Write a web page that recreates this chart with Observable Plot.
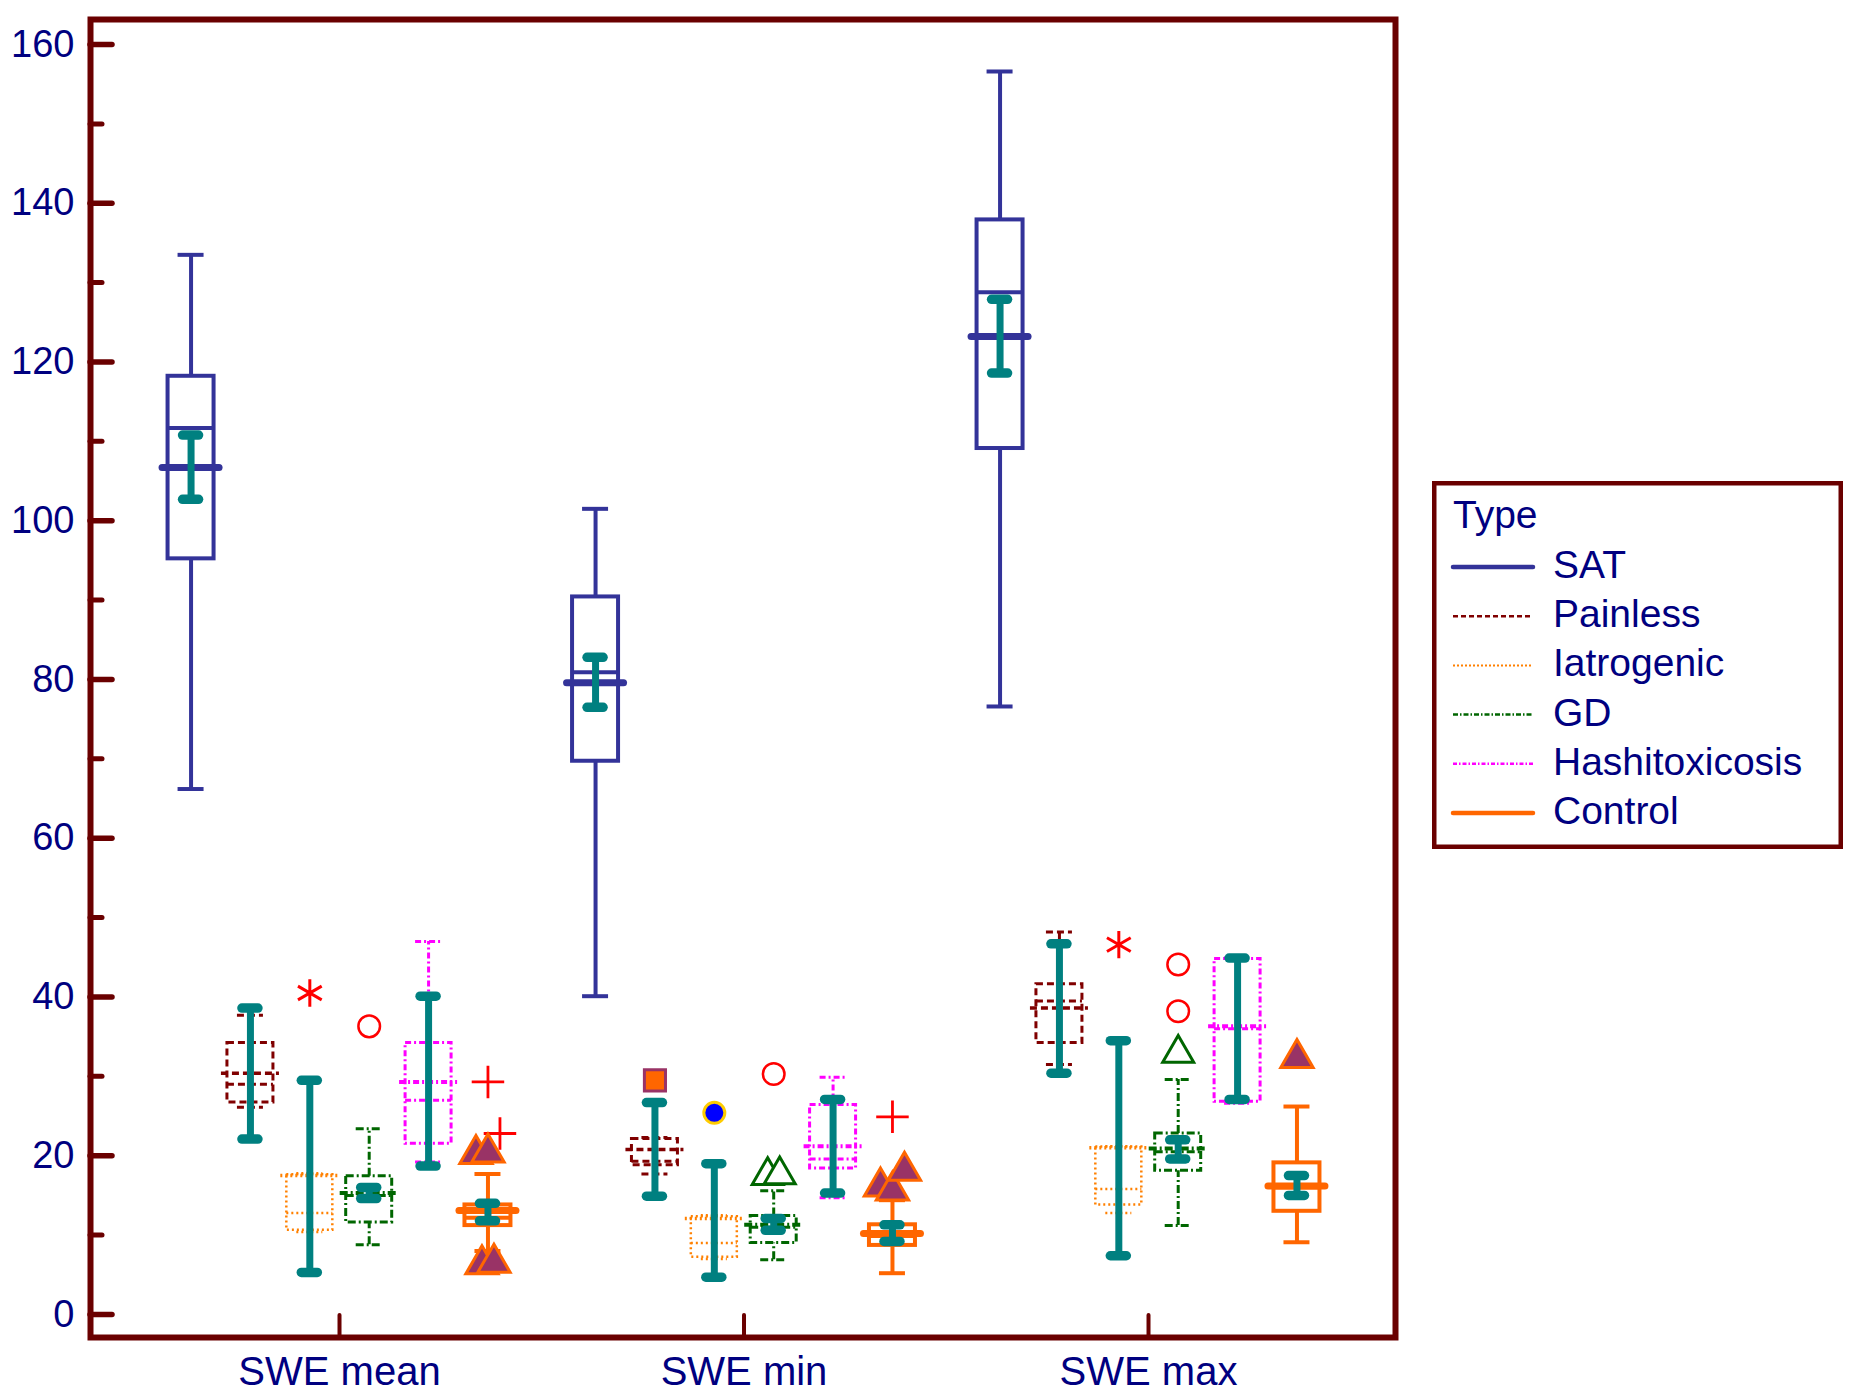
<!DOCTYPE html>
<html><head><meta charset="utf-8">
<script src="https://cdn.jsdelivr.net/npm/d3@7"></script>
<script src="https://cdn.jsdelivr.net/npm/@observablehq/plot@0.6"></script>
<style>
html,body{margin:0;padding:0;background:#fff;}
#wrap{position:relative;width:1860px;height:1396px;font-family:"Liberation Sans",Arial,sans-serif;}
#legend{position:absolute;left:1432px;top:481px;}
</style></head><body><div id="wrap"></div>
<script>
// ---------- data ----------
const groups = ["SWE mean", "SWE min", "SWE max"];
const types = ["SAT", "Painless", "Iatrogenic", "GD", "Hashitoxicosis", "Control"];
const yTicks = [0, 20, 40, 60, 80, 100, 120, 140, 160];
const yMinorTicks = [10, 30, 50, 70, 90, 110, 130, 150];

// rows: SWE mean, SWE min, SWE max ; columns follow `types`
const whiskerLo = [
  [66.2, 26.1, 10.4, 8.8, 19.2, 8.0],
  [40.1, 17.7, 7.0, 6.9, 14.7, 5.2],
  [76.6, 31.5, 12.8, 11.2, 26.6, 9.1]
];
const q1 = [
  [95.2, 26.7, 10.6, 11.6, 21.5, 11.2],
  [69.7, 18.8, 7.2, 9.0, 18.4, 8.7],
  [109.1, 34.2, 13.8, 18.1, 26.8, 13.0]
];
const median = [
  [111.7, 29.0, 12.8, 15.0, 27.0, 12.2],
  [80.9, 19.3, 9.0, 11.0, 19.6, 9.9],
  [128.8, 39.5, 15.8, 20.5, 36.0, 16.0]
];
const q3 = [
  [118.2, 34.2, 17.6, 17.4, 34.2, 13.8],
  [90.4, 22.1, 12.3, 12.4, 26.4, 11.3],
  [137.9, 41.6, 21.1, 22.8, 44.8, 19.1]
];
const whiskerHi = [
  [133.5, 37.7, 17.8, 23.4, 47.0, 17.7],
  [101.5, 22.3, 12.5, 15.6, 29.9, 14.4],
  [156.6, 48.2, 21.2, 29.6, 44.9, 26.2]
];
const means = [
  [106.7, 30.4, 17.5, 15.3, 29.3, 13.1],
  [79.6, 20.8, 12.1, 11.3, 21.2, 10.2],
  [123.2, 38.6, 21.0, 20.9, 36.3, 16.2]
];
const ciLo = [
  [102.7, 22.1, 5.3, 14.6, 18.7, 11.8],
  [76.5, 14.9, 4.7, 10.6, 15.3, 9.2],
  [118.6, 30.4, 7.4, 19.6, 27.1, 15.0]
];
const ciHi = [
  [110.8, 38.6, 29.5, 16.0, 40.1, 14.0],
  [82.8, 26.7, 19.0, 12.1, 27.1, 11.3],
  [127.9, 46.7, 34.5, 22.0, 44.9, 17.5]
];
// outside values: [group, type, value, kind]
const outliers = [
  ["SWE mean", "Iatrogenic", 40.5, "farAsterisk"],
  ["SWE mean", "GD", 36.3, "farCircle"],
  ["SWE mean", "Control", 20.2, "triPurple"],
  ["SWE mean", "Control", 20.4, "triPurple"],
  ["SWE mean", "Control", 22.8, "farPlus"],
  ["SWE mean", "Control", 29.3, "farPlus"],
  ["SWE mean", "Control", 6.3, "triPurple"],
  ["SWE mean", "Control", 6.5, "triPurple"],
  ["SWE min", "Painless", 29.5, "squareOrange"],
  ["SWE min", "Iatrogenic", 25.4, "circleBlue"],
  ["SWE min", "GD", 30.3, "farCircle"],
  ["SWE min", "GD", 17.5, "triGreen"],
  ["SWE min", "GD", 17.6, "triGreen"],
  ["SWE min", "Control", 24.9, "farPlus"],
  ["SWE min", "Control", 16.1, "triPurple"],
  ["SWE min", "Control", 15.6, "triPurple"],
  ["SWE min", "Control", 18.1, "triPurple"],
  ["SWE max", "Iatrogenic", 46.6, "farAsterisk"],
  ["SWE max", "GD", 44.1, "farCircle"],
  ["SWE max", "GD", 38.2, "farCircle"],
  ["SWE max", "GD", 32.9, "triGreen"],
  ["SWE max", "Control", 32.3, "triPurple"]
];

// ---------- styles ----------
const navy = "#000080", frameColor = "#6a0000", teal = "#008080";
const typeStyle = {
  "SAT":            {color: "#333399", dash: null,      sw: 4,   meanSw: 7,   legendSw: 4.5, legendDash: null},
  "Painless":       {color: "#800000", dash: "7,4",     sw: 3,   meanSw: 3.5, legendSw: 2.5, legendDash: "5,3"},
  "Iatrogenic":     {color: "#ff8000", dash: "2,3",     sw: 2.5, meanSw: 3.5, legendSw: 2,   legendDash: "2,2"},
  "GD":             {color: "#006600", dash: "8,3,2,3", sw: 3,   meanSw: 4,   legendSw: 2.5, legendDash: "5,2,1.5,2"},
  "Hashitoxicosis": {color: "#ff00ff", dash: "6,3,2,3", sw: 3,   meanSw: 4,   legendSw: 2.5, legendDash: "4,2,1.5,2"},
  "Control":        {color: "#ff6600", dash: null,      sw: 4,   meanSw: 7,   legendSw: 4.5, legendDash: null}
};
const kindStyle = {
  farAsterisk:  {symbol: "asterisk", fill: "none",    stroke: "#ff0000", r: 13,   sw: 3},
  farCircle:    {symbol: "circle",   fill: "none",    stroke: "#ff0000", r: 10.8, sw: 2.5},
  farPlus:      {symbol: "plus",     fill: "none",    stroke: "#ff0000", r: 10.5, sw: 2.8},
  triPurple:    {symbol: "triangle", fill: "#993366", stroke: "#ff6600", r: 12,   sw: 3},
  triGreen:     {symbol: "triangle", fill: "#ffffff", stroke: "#006600", r: 11.5, sw: 3},
  squareOrange: {symbol: "square",   fill: "#ff6600", stroke: "#993366", r: 11.9, sw: 3},
  circleBlue:   {symbol: "circle",   fill: "#0000ff", stroke: "#ffcc00", r: 10.5, sw: 3}
};

// ---------- layout ----------
const W = 1860, H = 1396;
const mL = 90, mR = 465, mT = 19, mB = 59;
const xDom = [-0.6156, 2.6106];
const yDom = [-2.9, 163.15];
const kx = (xDom[1] - xDom[0]) / (W - mL - mR);   // x units per pixel
const ky = (yDom[1] - yDom[0]) / (H - mT - mB);   // y units per pixel
const slot = 0.1468;                               // spacing between types in a group
const boxH = 23 * kx, capH = 13 * kx, meanHs = 28.5 * kx, meanHd = 29 * kx, tealH = 8 * kx;

const rows = [];
groups.forEach((g, gi) => types.forEach((t, ti) => rows.push({
  g, gi, t, ti,
  lo: whiskerLo[gi][ti], q1: q1[gi][ti], med: median[gi][ti], q3: q3[gi][ti],
  hi: whiskerHi[gi][ti], mean: means[gi][ti], ciLo: ciLo[gi][ti], ciHi: ciHi[gi][ti]
})));
const cx = d => d.gi + (d.ti - 2.5) * slot;

// outliers, with small horizontal spreading of near-coincident points
const outRows = outliers.map(([g, t, v, kind]) => ({gi: groups.indexOf(g), ti: types.indexOf(t), v, kind, off: 0}));
d3.groups(outRows, d => d.gi + "|" + d.ti).forEach(([, items]) => {
  const clusters = [];
  items.forEach(it => {
    const c = clusters.find(cl => cl.some(o => Math.abs(o.v - it.v) < 3));
    if (c) c.push(it); else clusters.push([it]);
  });
  clusters.forEach(cl => cl.forEach((o, k) => { o.off = (k - (cl.length - 1) / 2) * 12; }));
});

// ---------- marks ----------
const marks = [];
types.forEach(t => {
  const s = typeStyle[t];
  const data = rows.filter(d => d.t === t);
  const common = {stroke: s.color, strokeWidth: s.sw, strokeDasharray: s.dash};
  marks.push(
    Plot.ruleX(data, {x: cx, y1: "lo", y2: "q1", ...common}),
    Plot.ruleX(data, {x: cx, y1: "q3", y2: "hi", ...common}),
    Plot.ruleY(data, {y: "lo", x1: d => cx(d) - capH, x2: d => cx(d) + capH, ...common}),
    Plot.ruleY(data, {y: "hi", x1: d => cx(d) - capH, x2: d => cx(d) + capH, ...common}),
    Plot.rect(data, {x1: d => cx(d) - boxH, x2: d => cx(d) + boxH, y1: "q1", y2: "q3", fill: "none", ...common}),
    Plot.ruleY(data, {y: "med", x1: d => cx(d) - boxH, x2: d => cx(d) + boxH, ...common}),
    Plot.ruleY(data, {y: "mean", x1: d => cx(d) - (s.dash ? meanHd : meanHs), x2: d => cx(d) + (s.dash ? meanHd : meanHs),
      stroke: s.color, strokeWidth: s.meanSw, strokeDasharray: s.dash, strokeLinecap: s.dash ? "butt" : "round"})
  );
});
// teal interval bars
marks.push(
  Plot.ruleX(rows, {x: cx, y1: "ciLo", y2: "ciHi", stroke: teal, strokeWidth: 7}),
  Plot.ruleY(rows, {y: "ciLo", x1: d => cx(d) - tealH, x2: d => cx(d) + tealH, stroke: teal, strokeWidth: 9.5, strokeLinecap: "round"}),
  Plot.ruleY(rows, {y: "ciHi", x1: d => cx(d) - tealH, x2: d => cx(d) + tealH, stroke: teal, strokeWidth: 9.5, strokeLinecap: "round"})
);
// outliers
Object.entries(kindStyle).forEach(([kind, k]) => {
  marks.push(Plot.dot(outRows.filter(d => d.kind === kind), {
    x: d => d.gi + (d.ti - 2.5) * slot + d.off * kx, y: "v",
    symbol: k.symbol, r: k.r, fill: k.fill, stroke: k.stroke, strokeWidth: k.sw
  }));
});
// axes: ticks & labels
marks.push(
  Plot.ruleY(yTicks, {y: d => d, x1: () => xDom[0], x2: () => xDom[0] + 22 * kx, stroke: frameColor, strokeWidth: 5.5, strokeLinecap: "round"}),
  Plot.ruleY(yMinorTicks, {y: d => d, x1: () => xDom[0], x2: () => xDom[0] + 12 * kx, stroke: frameColor, strokeWidth: 5, strokeLinecap: "round"}),
  Plot.ruleX(groups, {x: (d, i) => i, y1: () => yDom[0], y2: () => yDom[0] + 22 * ky, stroke: frameColor, strokeWidth: 4, strokeLinecap: "round"}),
  Plot.text(yTicks, {x: () => xDom[0], y: d => d, text: d => String(d), textAnchor: "end", dx: -16, fontSize: 38, fill: navy}),
  Plot.text(groups, {x: (d, i) => i, y: () => yDom[0], text: d => d, lineAnchor: "top", dy: 19, fontSize: 40, fill: navy}),
  Plot.frame({stroke: frameColor, strokeWidth: 6})
);

const chart = Plot.plot({
  width: W, height: H,
  marginLeft: mL, marginRight: mR, marginTop: mT, marginBottom: mB,
  style: {fontFamily: '"Liberation Sans", Arial, sans-serif', background: "#fff"},
  x: {domain: xDom, axis: null},
  y: {domain: yDom, axis: null},
  marks
});
const wrap = document.getElementById("wrap");
wrap.appendChild(chart);

// ---------- legend ----------
const lw = 411, lh = 368;
const leg = d3.select(wrap).append("svg").attr("id", "legend").attr("width", lw).attr("height", lh);
leg.append("rect").attr("x", 2.25).attr("y", 2.25).attr("width", lw - 4.5).attr("height", lh - 4.5)
  .attr("fill", "#fff").attr("stroke", frameColor).attr("stroke-width", 4.5);
leg.append("text").attr("x", 21).attr("y", 47).attr("fill", navy)
  .attr("font-family", '"Liberation Sans", Arial, sans-serif').attr("font-size", 39).text("Type");
types.forEach((t, i) => {
  const s = typeStyle[t];
  const base = 97 + i * 49.2;
  leg.append("line").attr("x1", 21).attr("x2", 101).attr("y1", base - 11).attr("y2", base - 11)
    .attr("stroke", s.color).attr("stroke-width", s.legendSw)
    .attr("stroke-dasharray", s.legendDash).attr("stroke-linecap", s.legendDash ? "butt" : "round");
  leg.append("text").attr("x", 121).attr("y", base).attr("fill", navy)
    .attr("font-family", '"Liberation Sans", Arial, sans-serif').attr("font-size", 39).text(t);
});
</script></body></html>
